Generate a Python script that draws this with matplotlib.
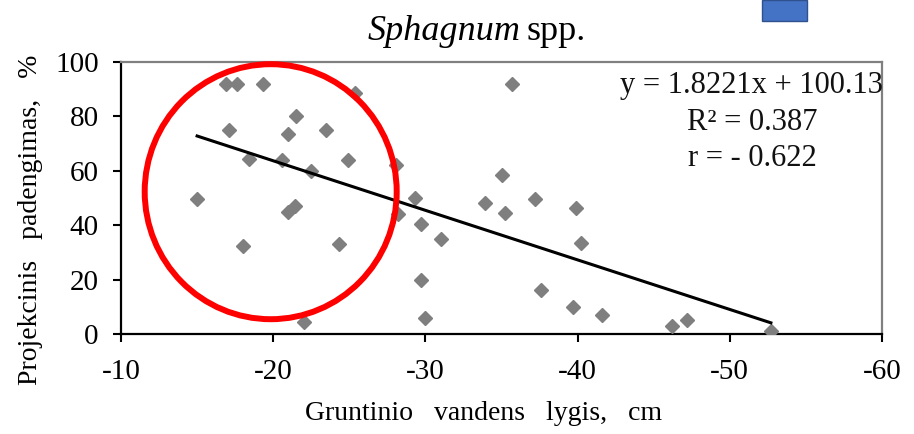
import matplotlib
matplotlib.use("Agg")
import matplotlib.pyplot as plt
from matplotlib.patches import Ellipse, Rectangle

# ---- data ----
groundwater_cm = [-16.9, -17.6, -19.3, -25.4, -21.5, -17.1, -21.0, -23.5, -18.4, -20.6,
                  -24.9, -22.5, -28.1, -15.0, -29.3, -21.4, -21.0, -28.2, -29.7, -18.0,
                  -24.3, -31.0, -29.7, -30.0, -22.0, -35.7, -35.0, -33.9, -35.2, -37.2,
                  -39.9, -40.2, -37.6, -39.7, -41.6, -46.2, -47.2, -52.7]
cover_pct = [92, 92, 92, 88.5, 80, 75, 73.5, 75, 64.5, 64,
             64, 60, 62, 49.5, 50, 47, 45, 44, 40.5, 32.5,
             33, 35, 20, 6, 4.5, 92, 58.5, 48, 44.5, 49.5,
             46.5, 33.5, 16, 10, 7, 3, 5, 1]
slope = 1.8221
intercept = 100.13
eq_lines = ["y = 1.8221x + 100.13", "R² = 0.387", "r = - 0.622"]
x_ticks = [-10, -20, -30, -40, -50, -60]
y_ticks = [0, 20, 40, 60, 80, 100]

plt.rcParams['font.family'] = ['Liberation Serif', 'DejaVu Serif']

W, H = 914, 434
fig = plt.figure(figsize=(W / 100, H / 100), dpi=100)
fig.patch.set_facecolor('white')
ax = fig.add_axes([121 / W, 1 - 334 / H, 761 / W, 272 / H])

ax.plot(groundwater_cm, cover_pct, linestyle='none', marker='D', markersize=7,
        color='#7f7f7f', zorder=3)

x0, x1 = max(groundwater_cm), min(groundwater_cm)
ax.plot([x0, x1], [slope * x0 + intercept, slope * x1 + intercept],
        color='black', lw=2.2, zorder=4)

ax.set_xlim(-10, -60)
ax.set_ylim(0, 100)
ax.set_xticks(x_ticks)
ax.set_xticklabels([str(t) for t in x_ticks])
ax.set_yticks(y_ticks)
ax.set_yticklabels([str(t) for t in y_ticks])
ax.tick_params(axis='both', direction='out', length=6, width=1.5, labelsize=21,
               colors='black')
ax.tick_params(axis='x', pad=12)
ax.tick_params(axis='y', pad=10)
for s in ['left', 'bottom']:
    ax.spines[s].set_color('black')
    ax.spines[s].set_linewidth(1.6)
for s in ['top', 'right']:
    ax.spines[s].set_color('#808080')
    ax.spines[s].set_linewidth(1.6)

# regression text
for i, line in enumerate(eq_lines):
    fig.text(752 / W, 1 - (86 + 36 * i) / H, line, ha='center', va='center',
             fontsize=22, color='#111111')

# title
fig.text(521 / W, 1 - 31 / H, "Sphagnum", style='italic', ha='right', va='center',
         fontsize=26)
fig.text(527 / W, 1 - 31 / H, "spp.", ha='left', va='center', fontsize=26)

# axis labels
fig.text(484 / W, 1 - 414 / H, "Gruntinio   vandens   lygis,   cm", ha='center',
         va='center', fontsize=20)
fig.text(31 / W, 1 - 220 / H, "Projekcinis   padengimas,   %", rotation=90,
         ha='center', va='center', fontsize=20)

# annotations
fig.patches.append(Ellipse((270.7 / W, 1 - 191.7 / H), 252 / W, 255 / H,
                           transform=fig.transFigure, fill=False, edgecolor='#ff0000',
                           lw=4.3, zorder=10))
fig.patches.append(Rectangle((762 / W, 1 - 21 / H), 45 / W, 21 / H,
                             transform=fig.transFigure, facecolor='#4472C4',
                             edgecolor='#2F528F', lw=1, zorder=10))

fig.savefig("out.png", dpi=100, facecolor='white')
